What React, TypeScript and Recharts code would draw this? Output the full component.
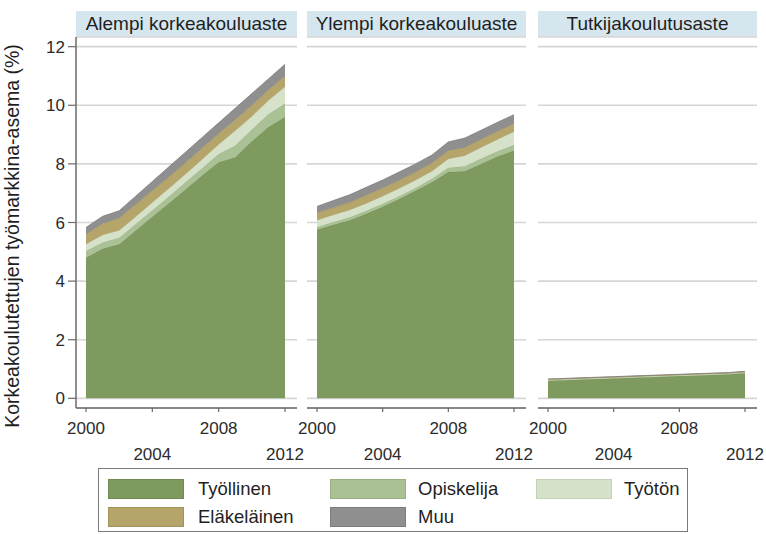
import React from 'react';
import { AreaChart, Area, XAxis, YAxis, CartesianGrid } from 'recharts';

const years = [2000, 2001, 2002, 2003, 2004, 2005, 2006, 2007, 2008, 2009, 2010, 2011, 2012];
const xTicks = [2000, 2004, 2008, 2012];
const yTicks = [0, 2, 4, 6, 8, 10, 12];

const categories = ['Työllinen', 'Opiskelija', 'Työtön', 'Eläkeläinen', 'Muu'];
const panelTitles = ['Alempi korkeakouluaste', 'Ylempi korkeakouluaste', 'Tutkijakoulutusaste'];

// Alempi korkeakouluaste
const alempiTyollinen = [4.8, 5.1, 5.26, 5.73, 6.2, 6.66, 7.13, 7.6, 8.06, 8.23, 8.77, 9.26, 9.6];
const alempiOpiskelija = [0.23, 0.22, 0.22, 0.22, 0.22, 0.23, 0.24, 0.25, 0.28, 0.4, 0.4, 0.43, 0.46];
const alempiTyoton = [0.23, 0.25, 0.25, 0.25, 0.26, 0.27, 0.28, 0.3, 0.32, 0.5, 0.45, 0.47, 0.57];
const alempiElakelainen = [0.34, 0.4, 0.42, 0.42, 0.41, 0.4, 0.39, 0.39, 0.38, 0.38, 0.38, 0.37, 0.37];
const alempiMuu = [0.23, 0.24, 0.25, 0.28, 0.31, 0.34, 0.36, 0.36, 0.36, 0.39, 0.4, 0.37, 0.4];

// Ylempi korkeakouluaste
const ylempiTyollinen = [5.75, 5.92, 6.08, 6.3, 6.54, 6.8, 7.08, 7.37, 7.72, 7.75, 8.0, 8.25, 8.46];
const ylempiOpiskelija = [0.1, 0.1, 0.1, 0.1, 0.1, 0.1, 0.1, 0.12, 0.15, 0.17, 0.18, 0.18, 0.19];
const ylempiTyoton = [0.23, 0.24, 0.25, 0.25, 0.26, 0.26, 0.26, 0.26, 0.3, 0.36, 0.38, 0.4, 0.45];
const ylempiElakelainen = [0.25, 0.25, 0.26, 0.28, 0.28, 0.28, 0.28, 0.28, 0.28, 0.28, 0.28, 0.28, 0.28];
const ylempiMuu = [0.22, 0.24, 0.26, 0.27, 0.27, 0.28, 0.28, 0.27, 0.3, 0.32, 0.31, 0.31, 0.3];

// Tutkijakoulutusaste
const tutkijaTyollinen = [0.6, 0.62, 0.64, 0.66, 0.68, 0.7, 0.72, 0.74, 0.76, 0.78, 0.8, 0.82, 0.86];
const tutkijaOpiskelija = [0.01, 0.01, 0.01, 0.01, 0.01, 0.01, 0.01, 0.01, 0.01, 0.01, 0.01, 0.01, 0.01];
const tutkijaTyoton = [0.02, 0.02, 0.02, 0.02, 0.02, 0.02, 0.02, 0.02, 0.02, 0.02, 0.02, 0.02, 0.02];
const tutkijaElakelainen = [0.02, 0.02, 0.02, 0.02, 0.02, 0.02, 0.02, 0.02, 0.02, 0.02, 0.02, 0.02, 0.02];
const tutkijaMuu = [0.01, 0.01, 0.01, 0.01, 0.01, 0.01, 0.01, 0.01, 0.01, 0.01, 0.01, 0.01, 0.01];

const fills = ['#7e9a5f', '#a9c194', '#d6e1ca', '#b5a56b', '#8f8f8f'];
const edges = ['#6f8b52', '#97b082', '#c3d1b5', '#a39359', '#7d7d7d'];

const FONT = '"Liberation Sans", Arial, Helvetica, sans-serif';

const buildRows = (series: number[][]) =>
  years.map((year, i) => {
    const row: Record<string, number> = { year };
    categories.forEach((c, k) => {
      row[c] = series[k][i];
    });
    return row;
  });

const panelData = [
  buildRows([alempiTyollinen, alempiOpiskelija, alempiTyoton, alempiElakelainen, alempiMuu]),
  buildRows([ylempiTyollinen, ylempiOpiskelija, ylempiTyoton, ylempiElakelainen, ylempiMuu]),
  buildRows([tutkijaTyollinen, tutkijaOpiskelija, tutkijaTyoton, tutkijaElakelainen, tutkijaMuu]),
];

// plot area left edge and width of each panel
const panelLeft = [76, 307, 538];
const panelWidth = [221, 219, 219];

const CHART_TOP = 30;
const PLOT_TOP = 37;
const PLOT_BOTTOM = 408;
const X_AXIS_H = 62;
const SIDE = 24;

const YearTick = (props: any) => {
  const { x, y, payload } = props;
  const lower = payload.value === 2004 || payload.value === 2012;
  return (
    <text
      x={x}
      y={y}
      dy={lower ? 46 : 20}
      textAnchor="middle"
      fill="#2b2b2b"
      fontSize={17}
      fontFamily={FONT}
    >
      {payload.value}
    </text>
  );
};

const Panel = ({ index }: { index: number }) => {
  const first = index === 0;
  const yAxisWidth = first ? 76 : 0;
  const marginLeft = first ? 0 : SIDE;
  const width = marginLeft + yAxisWidth + panelWidth[index] + SIDE;
  const left = first ? 0 : panelLeft[index] - SIDE;
  return (
    <div style={{ position: 'absolute', left, top: CHART_TOP }}>
      <AreaChart
        width={width}
        height={PLOT_BOTTOM - CHART_TOP + X_AXIS_H}
        data={panelData[index]}
        margin={{ top: PLOT_TOP - CHART_TOP, right: SIDE, left: marginLeft, bottom: 0 }}
      >
        <CartesianGrid vertical={false} stroke="#d6d6d6" strokeWidth={1.6} />
        <XAxis
          dataKey="year"
          type="number"
          domain={[2000, 2012]}
          ticks={xTicks}
          padding={{ left: 10, right: 12 }}
          height={X_AXIS_H}
          tickSize={4}
          axisLine={{ stroke: '#6a6a6a', strokeWidth: 1.5 }}
          tickLine={{ stroke: '#6a6a6a', strokeWidth: 1.2 }}
          tick={<YearTick />}
          interval={0}
        />
        <YAxis
          hide={!first}
          width={yAxisWidth}
          type="number"
          domain={[-0.33, 12.33]}
          ticks={yTicks}
          allowDataOverflow
          tickSize={8}
          tickMargin={3}
          axisLine={{ stroke: '#6a6a6a', strokeWidth: 1.5 }}
          tickLine={{ stroke: '#6a6a6a', strokeWidth: 1.2 }}
          tick={{ fill: '#2b2b2b', fontSize: 17, fontFamily: FONT }}
        />
        {categories.map((c, k) => (
          <Area
            key={c}
            type="linear"
            dataKey={c}
            stackId="1"
            fill={fills[k]}
            fillOpacity={1}
            stroke={edges[k]}
            strokeWidth={0.8}
            isAnimationActive={false}
          />
        ))}
      </AreaChart>
    </div>
  );
};

const legendCols = [9, 231, 437];
const legendLabelCols = [99, 319, 525];
const legendRows = [10, 38];

const App = () => {
  return (
    <div
      style={{
        position: 'absolute',
        left: 0,
        top: 0,
        width: 766,
        height: 534,
        background: '#ffffff',
        fontFamily: FONT,
        overflow: 'hidden',
      }}
    >
      {panelTitles.map((t, i) => (
        <div
          key={t}
          style={{
            position: 'absolute',
            left: panelLeft[i],
            top: 11,
            width: panelWidth[i],
            height: 26,
            background: '#d5e6ef',
            color: '#1f1f1f',
            fontSize: 19,
            lineHeight: '26px',
            textAlign: 'center',
          }}
        >
          {t}
        </div>
      ))}

      {[0, 1, 2].map((i) => (
        <Panel key={i} index={i} />
      ))}

      <div
        style={{
          position: 'absolute',
          left: 12,
          top: 236,
          transform: 'translate(-50%, -50%) rotate(-90deg)',
          whiteSpace: 'nowrap',
          fontSize: 19.5,
          color: '#1f1f1f',
        }}
      >
        Korkeakoulutettujen työmarkkina-asema (%)
      </div>

      <div
        style={{
          position: 'absolute',
          left: 98,
          top: 468,
          width: 590,
          height: 64,
          border: '1.5px solid #7a7a7a',
          boxSizing: 'border-box',
        }}
      >
        {categories.map((c, k) => {
          const col = k % 3;
          const row = Math.floor(k / 3);
          return (
            <React.Fragment key={c}>
              <div
                style={{
                  position: 'absolute',
                  left: legendCols[col],
                  top: legendRows[row],
                  width: 76,
                  height: 20,
                  background: fills[k],
                  border: `1px solid ${edges[k]}`,
                  boxSizing: 'border-box',
                }}
              />
              <div
                style={{
                  position: 'absolute',
                  left: legendLabelCols[col],
                  top: legendRows[row] - 2,
                  height: 24,
                  lineHeight: '24px',
                  fontSize: 18.5,
                  color: '#1f1f1f',
                  whiteSpace: 'nowrap',
                }}
              >
                {c}
              </div>
            </React.Fragment>
          );
        })}
      </div>
    </div>
  );
};

export default App;
